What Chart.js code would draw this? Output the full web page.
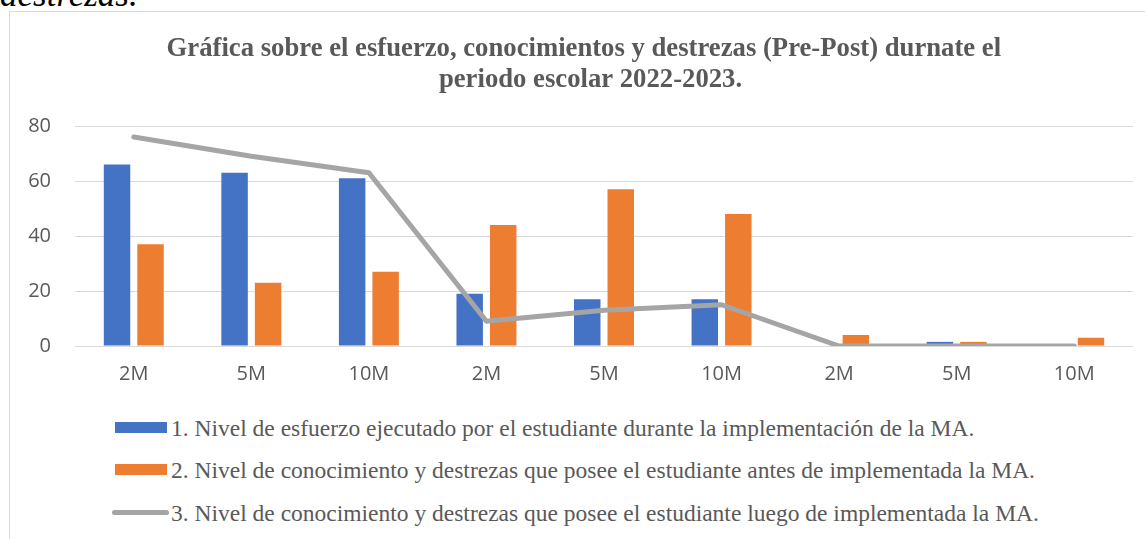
<!DOCTYPE html>
<html>
<head>
<meta charset="utf-8">
<script src="https://cdn.jsdelivr.net/npm/chart.js@4.4.0/dist/chart.umd.min.js"></script>
<style>
  html, body { margin: 0; padding: 0; background: #fff; width: 1145px; height: 539px; overflow: hidden; }
  #top { position: absolute; left: 0; top: -25px; font: italic 35px "Liberation Serif", "Times New Roman", serif; color: #000; line-height: 40px; }
  #frame { position: absolute; left: 9px; top: 11px; width: 1150px; height: 540px; border-left: 1px solid #d9d9d9; border-top: 1px solid #d9d9d9; box-sizing: border-box; }
  #wrap { position: absolute; left: 10px; top: 12px; width: 1135px; height: 390px; }
  #legend { position: absolute; left: 0; top: 0; font: 23.5px "Liberation Serif", "Times New Roman", serif; color: #595959; }
  .row { position: absolute; white-space: nowrap; height: 24px; line-height: 24px; }
  .sw { position: absolute; }
  .txt { position: absolute; left: 171px; }
</style>
</head>
<body>
<div id="top">destrezas.</div>
<div id="frame"></div>
<div id="wrap"><canvas id="c"></canvas></div>
<div id="legend"></div>
<script>
const categories = ["2M", "5M", "10M", "2M", "5M", "10M", "2M", "5M", "10M"];
const seriesNames = [
  "1. Nivel de esfuerzo ejecutado por el estudiante durante la implementación de la MA.",
  "2. Nivel de conocimiento y destrezas que posee el estudiante antes de implementada la MA.",
  "3. Nivel de conocimiento y destrezas que posee el estudiante luego de implementada la MA."
];
const esfuerzo = [66, 63, 61, 19, 17, 17, 0, 1.5, 0];
const antes = [37, 23, 27, 44, 57, 48, 4, 1.5, 3];
const luego = [76, 69, 63, 9, 13, 15, 0, 0, 0];
const yTicks = [0, 20, 40, 60, 80];
const titleLines = [
  "\u00a0Gráfica sobre el esfuerzo, conocimientos y destrezas (Pre-Post) durnate el",
  "\u00a0\u00a0\u00a0periodo escolar 2022-2023."
];
const colors = ["#4472c4", "#ed7d31", "#a5a5a5"];

new Chart(document.getElementById("c"), {
  type: "bar",
  data: {
    labels: categories,
    datasets: [
      { type: "bar", label: seriesNames[0], data: esfuerzo, backgroundColor: colors[0], order: 2,
        categoryPercentage: 0.57, barPercentage: 0.79 },
      { type: "bar", label: seriesNames[1], data: antes, backgroundColor: colors[1], order: 2,
        categoryPercentage: 0.57, barPercentage: 0.79 },
      { type: "line", label: seriesNames[2], data: luego, borderColor: colors[2], backgroundColor: colors[2],
        borderWidth: 5, pointRadius: 0, tension: 0, borderCapStyle: "round", borderJoinStyle: "round", order: 0 }
    ]
  },
  options: {
    responsive: true,
    maintainAspectRatio: false,
    animation: false,
    layout: { padding: { left: 18, right: 12, top: 0, bottom: 0 } },
    plugins: {
      legend: { display: false },
      tooltip: { enabled: false },
      title: {
        display: true,
        text: titleLines,
        color: "#595959",
        font: { family: "'Liberation Serif', 'Times New Roman', serif", size: 26.7, weight: "bold", lineHeight: 1.18 },
        padding: { top: 21, bottom: 30 }
      }
    },
    scales: {
      x: {
        grid: { display: false, drawTicks: false },
        border: { display: false },
        ticks: { color: "#595959", font: { family: "'Open Sans', sans-serif", size: 20 }, padding: 16 }
      },
      y: {
        min: 0, max: 80,
        afterBuildTicks: (axis) => { axis.ticks = yTicks.map(v => ({ value: v })); },
        afterFit: (axis) => { axis.width = 47; },
        grid: { color: "#d9d9d9", lineWidth: 1, drawTicks: false },
        border: { display: false },
        ticks: { color: "#595959", font: { family: "'Open Sans', sans-serif", size: 20 }, padding: 24 }
      }
    }
  }
});

// HTML legend
const legend = document.getElementById("legend");
const rowsY = [416, 458, 501];
seriesNames.forEach((name, i) => {
  const row = document.createElement("div");
  row.className = "row";
  row.style.top = rowsY[i] + "px";
  const sw = document.createElement("div");
  sw.className = "sw";
  if (i < 2) {
    sw.style.left = "115px"; sw.style.top = "6px"; sw.style.width = "52px"; sw.style.height = "11px";
    sw.style.background = colors[i];
  } else {
    sw.style.left = "112px"; sw.style.top = "9px"; sw.style.width = "57px"; sw.style.height = "5px";
    sw.style.background = colors[i]; sw.style.borderRadius = "3px";
  }
  const t = document.createElement("span");
  t.className = "txt";
  t.textContent = name;
  row.appendChild(sw);
  row.appendChild(t);
  legend.appendChild(row);
});
</script>
</body>
</html>
